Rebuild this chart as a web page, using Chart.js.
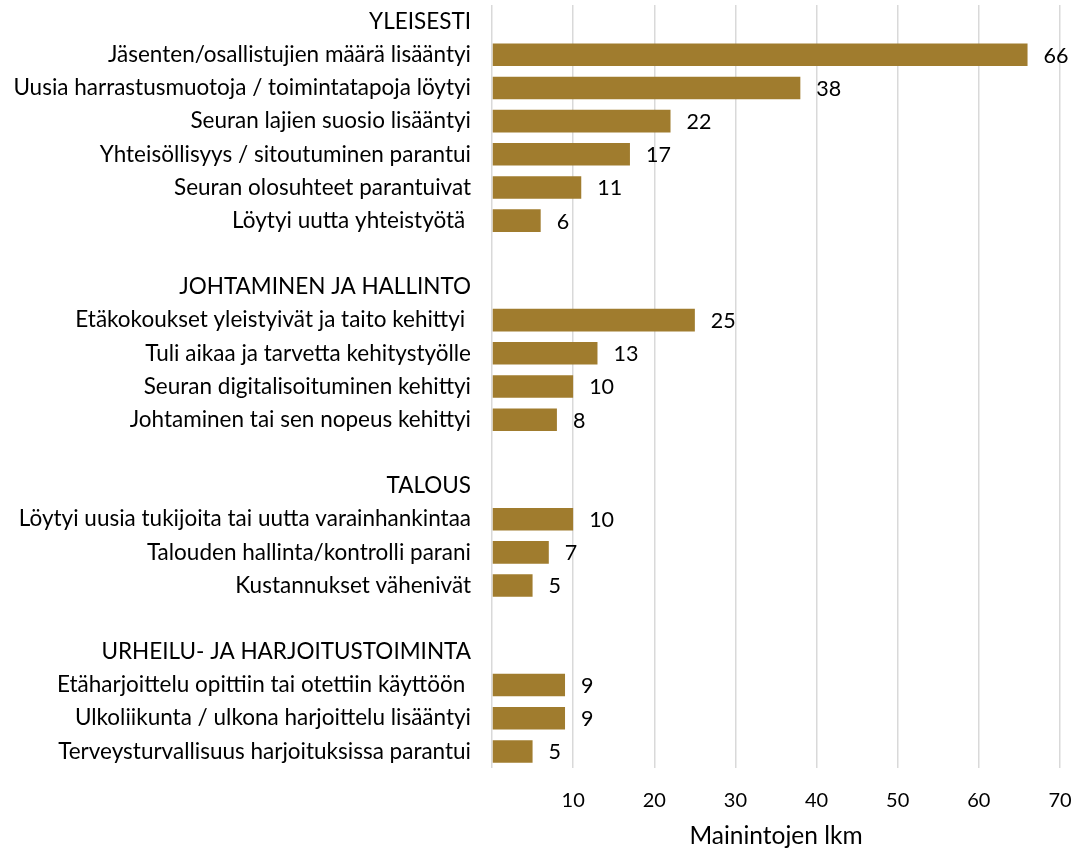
<!DOCTYPE html>
<html>
<head>
<meta charset="utf-8">
<script src="https://cdn.jsdelivr.net/npm/chart.js@4"></script>
<style>
  html, body { margin: 0; padding: 0; background: #fff; }
  #wrap { width: 1078px; height: 851px; }
</style>
</head>
<body>
<div id="wrap"><canvas id="chart"></canvas></div>
<script>
// rows top to bottom; headers and blank spacer rows have no value
const categories = [
  'YLEISESTI',
  'Jäsenten/osallistujien määrä lisääntyi',
  'Uusia harrastusmuotoja / toimintatapoja löytyi',
  'Seuran lajien suosio lisääntyi',
  'Yhteisöllisyys / sitoutuminen parantui',
  'Seuran olosuhteet parantuivat',
  'Löytyi uutta yhteistyötä ',
  '',
  'JOHTAMINEN JA HALLINTO',
  'Etäkokoukset yleistyivät ja taito kehittyi ',
  'Tuli aikaa ja tarvetta kehitystyölle',
  'Seuran digitalisoituminen kehittyi',
  'Johtaminen tai sen nopeus kehittyi',
  '',
  'TALOUS',
  'Löytyi uusia tukijoita tai uutta varainhankintaa',
  'Talouden hallinta/kontrolli parani',
  'Kustannukset vähenivät',
  '',
  'URHEILU- JA HARJOITUSTOIMINTA',
  'Etäharjoittelu opittiin tai otettiin käyttöön ',
  'Ulkoliikunta / ulkona harjoittelu lisääntyi',
  'Terveysturvallisuus harjoituksissa parantui'
];
const mentions = [
  null, 66, 38, 22, 17, 11, 6,
  null,
  null, 25, 13, 10, 8,
  null,
  null, 10, 7, 5,
  null,
  null, 9, 9, 5
];
const xTicks = [0, 10, 20, 30, 40, 50, 60, 70];
const axisTitle = 'Mainintojen lkm';

const FONT = 'Lato, sans-serif';

const valueLabels = {
  id: 'valueLabels',
  afterDatasetsDraw(chart) {
    const ctx = chart.ctx;
    const meta = chart.getDatasetMeta(0);
    ctx.save();
    ctx.font = '21.5px ' + FONT;
    ctx.fillStyle = '#000';
    ctx.textAlign = 'left';
    ctx.textBaseline = 'middle';
    meta.data.forEach((bar, i) => {
      const v = mentions[i];
      if (v == null) return;
      ctx.fillText(String(v), bar.x + 16, bar.y + 1);
    });
    ctx.restore();
  }
};

new Chart(document.getElementById('chart'), {
  type: 'bar',
  data: {
    labels: categories,
    datasets: [{
      data: mentions,
      backgroundColor: '#A07C2E',
      borderWidth: 0,
      barPercentage: 0.68,
      categoryPercentage: 1
    }]
  },
  options: {
    indexAxis: 'y',
    responsive: true,
    maintainAspectRatio: false,
    animation: false,
    layout: { padding: { top: 5, right: 18, left: 0, bottom: 0 } },
    plugins: {
      legend: { display: false },
      tooltip: { enabled: false }
    },
    scales: {
      x: {
        min: 0,
        max: 70,
        afterBuildTicks: (scale) => { scale.ticks = xTicks.map(v => ({ value: v })); },
        ticks: {
          callback: (v) => v === 0 ? '' : v,
          color: '#000',
          font: { family: FONT, size: 20 },
          padding: 21
        },
        grid: { color: '#d9d9d9', lineWidth: 1.5, drawTicks: false },
        border: { display: false },
        title: {
          display: true,
          text: axisTitle,
          color: '#000',
          font: { family: FONT, size: 24.5 },
          padding: { top: 10, bottom: 0 }
        },
        afterFit: (scale) => {
          scale.height = 83;
          scale.paddingLeft = 0;
          scale.paddingRight = 0;
        }
      },
      y: {
        ticks: {
          color: '#000',
          font: { family: FONT, size: 22.5 },
          padding: 21,
          autoSkip: false
        },
        grid: { display: false, drawTicks: false },
        border: { display: false },
        afterFit: (scale) => {
          scale.width = 492;
          scale.paddingTop = 0;
          scale.paddingBottom = 0;
        }
      }
    }
  },
  plugins: [valueLabels]
});
</script>
</body>
</html>
